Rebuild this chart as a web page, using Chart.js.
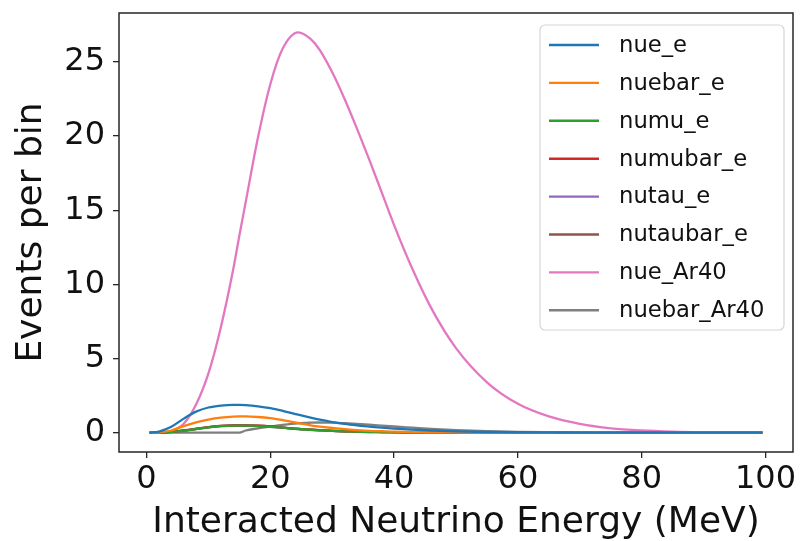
<!DOCTYPE html>
<html>
<head>
<meta charset="utf-8">
<script src="https://cdn.jsdelivr.net/npm/chart.js@4"></script>
<style>
  html, body { margin: 0; padding: 0; background: #fff; }
  #wrap { width: 801px; height: 541px; }
</style>
</head>
<body>
<div id="wrap"><canvas id="myChart" width="801" height="541"></canvas></div>
<script>
// Neutrino energy sample points (MeV)
var energy = [0.5, 2, 4, 6, 8, 10, 12, 14, 15, 16, 18, 20, 22, 24.5, 26.5, 28, 30, 32, 34, 36, 38, 40, 43, 46, 50, 55, 60, 65, 70, 75, 80, 85, 90, 95, 99.5];

// Events per bin for each channel
var nue_e       = [0, 0.08, 0.40, 0.95, 1.42, 1.70, 1.83, 1.88, 1.88, 1.86, 1.78, 1.66, 1.48, 1.22, 1.02, 0.88, 0.72, 0.60, 0.50, 0.41, 0.34, 0.28, 0.21, 0.15, 0.09, 0.05, 0.03, 0.02, 0.01, 0.01, 0, 0, 0, 0, 0];
var nuebar_e    = [0, 0.02, 0.15, 0.45, 0.70, 0.89, 1.02, 1.09, 1.10, 1.10, 1.06, 0.98, 0.85, 0.66, 0.50, 0.41, 0.32, 0.24, 0.18, 0.13, 0.10, 0.07, 0.05, 0.03, 0.02, 0.01, 0, 0, 0, 0, 0, 0, 0, 0, 0];
var numu_e      = [0, 0.01, 0.06, 0.14, 0.25, 0.36, 0.44, 0.48, 0.48, 0.48, 0.45, 0.40, 0.34, 0.25, 0.20, 0.16, 0.12, 0.09, 0.07, 0.05, 0.04, 0.03, 0.02, 0.02, 0.01, 0, 0, 0, 0, 0, 0, 0, 0, 0, 0];
var numubar_e   = [0, 0.01, 0.06, 0.15, 0.26, 0.38, 0.46, 0.50, 0.50, 0.50, 0.47, 0.42, 0.35, 0.26, 0.21, 0.17, 0.13, 0.10, 0.08, 0.06, 0.05, 0.04, 0.03, 0.02, 0.01, 0, 0, 0, 0, 0, 0, 0, 0, 0, 0];
var nutau_e     = [0, 0.01, 0.06, 0.14, 0.25, 0.36, 0.44, 0.48, 0.48, 0.48, 0.45, 0.40, 0.34, 0.25, 0.20, 0.16, 0.12, 0.09, 0.07, 0.05, 0.04, 0.03, 0.02, 0.02, 0.01, 0, 0, 0, 0, 0, 0, 0, 0, 0, 0];
var nutaubar_e  = [0, 0.01, 0.06, 0.15, 0.26, 0.38, 0.46, 0.50, 0.50, 0.50, 0.47, 0.42, 0.35, 0.26, 0.21, 0.17, 0.13, 0.10, 0.08, 0.06, 0.05, 0.04, 0.03, 0.02, 0.01, 0, 0, 0, 0, 0, 0, 0, 0, 0, 0];
var nue_Ar40    = [0, 0, 0.10, 0.60, 1.90, 4.00, 7.10, 11.0, 13.3, 15.5, 19.9, 23.5, 25.9, 27.0, 26.55, 25.8, 24.3, 22.5, 20.5, 18.4, 16.2, 14.0, 11.0, 8.4, 5.7, 3.4, 1.95, 1.1, 0.6, 0.3, 0.15, 0.07, 0.03, 0.01, 0];
var nuebar_Ar40 = [0, 0, 0, 0, 0, 0, 0, 0, 0, 0.15, 0.30, 0.42, 0.53, 0.635, 0.675, 0.69, 0.68, 0.64, 0.59, 0.54, 0.48, 0.42, 0.34, 0.26, 0.18, 0.10, 0.05, 0.03, 0.02, 0.01, 0, 0, 0, 0, 0];

var seriesNames = ['nue_e', 'nuebar_e', 'numu_e', 'numubar_e', 'nutau_e', 'nutaubar_e', 'nue_Ar40', 'nuebar_Ar40'];
var seriesData = [nue_e, nuebar_e, numu_e, numubar_e, nutau_e, nutaubar_e, nue_Ar40, nuebar_Ar40];
var colors = ['#1f77b4', '#ff7f0e', '#2ca02c', '#d62728', '#9467bd', '#8c564b', '#e377c2', '#7f7f7f'];

var xTicks = [0, 20, 40, 60, 80, 100];
var yTicks = [0, 5, 10, 15, 20, 25];

var FONT = "'DejaVu Sans', sans-serif";

var datasets = seriesNames.map(function (name, i) {
  return {
    label: name,
    data: energy.map(function (e, j) { return { x: e, y: seriesData[i][j] }; }),
    borderColor: colors[i],
    backgroundColor: colors[i],
    borderWidth: 2.3,
    pointRadius: 0,
    fill: false,
    cubicInterpolationMode: 'monotone'
  };
});

// Box around the plot area plus a boxed legend in the upper right
var framePlugin = {
  id: 'frame',
  afterDraw: function (chart) {
    var ctx = chart.ctx;
    var a = chart.chartArea;
    ctx.save();
    ctx.strokeStyle = '#262626';
    ctx.lineWidth = 1.5;
    ctx.strokeRect(a.left, a.top, a.right - a.left, a.bottom - a.top);

    // legend
    var boxL = a.right - 253, boxT = a.top + 12, boxW = 244, boxH = 305;
    ctx.beginPath();
    ctx.roundRect(boxL, boxT, boxW, boxH, 5);
    ctx.fillStyle = 'rgba(255,255,255,0.8)';
    ctx.fill();
    ctx.strokeStyle = '#d6d6d6';
    ctx.lineWidth = 1.2;
    ctx.stroke();

    ctx.font = '22.7px ' + FONT;
    ctx.textBaseline = 'middle';
    ctx.textAlign = 'left';
    chart.data.datasets.forEach(function (ds, i) {
      var y = boxT + 20 + i * 37.9;
      ctx.strokeStyle = ds.borderColor;
      ctx.lineWidth = 2.4;
      ctx.beginPath();
      ctx.moveTo(boxL + 9, y);
      ctx.lineTo(boxL + 59, y);
      ctx.stroke();
      ctx.fillStyle = '#111';
      ctx.fillText(ds.label, boxL + 79, y + 1);
    });
    ctx.restore();
  }
};

function noPadding(scale) {
  scale.paddingTop = 0;
  scale.paddingBottom = 0;
  scale.paddingLeft = 0;
  scale.paddingRight = 0;
}

var ctx = document.getElementById('myChart').getContext('2d');

var myChart = new Chart(ctx, {
  type: 'line',
  data: { datasets: datasets },
  options: {
    responsive: false,
    animation: false,
    layout: { padding: { left: 0, right: 8, top: 13, bottom: 0 } },
    plugins: {
      legend: { display: false },
      tooltip: { enabled: false }
    },
    scales: {
      x: {
        type: 'linear',
        min: -4.45,
        max: 104.45,
        afterBuildTicks: function (scale) {
          scale.ticks = xTicks.map(function (v) { return { value: v }; });
        },
        afterFit: function (scale) { scale.height = 89; noPadding(scale); },
        grid: { drawOnChartArea: false, drawTicks: true, tickLength: 6, color: '#262626', lineWidth: 1.3 },
        border: { display: false },
        ticks: { font: { family: FONT, size: 32, lineHeight: 1.0 }, color: '#111', padding: 6, maxRotation: 0 },
        title: { display: true, text: 'Interacted Neutrino Energy (MeV)', font: { family: FONT, size: 36, lineHeight: 1.0 }, color: '#111', padding: { top: 0, bottom: 0 } }
      },
      y: {
        min: -1.3,
        max: 28.3,
        afterBuildTicks: function (scale) {
          scale.ticks = yTicks.map(function (v) { return { value: v }; });
        },
        afterFit: function (scale) { scale.width = 119; noPadding(scale); },
        grid: { drawOnChartArea: false, drawTicks: true, tickLength: 6, color: '#262626', lineWidth: 1.3 },
        border: { display: false },
        ticks: { font: { family: FONT, size: 32 }, color: '#111', padding: 8 },
        title: { display: true, text: 'Events per bin', font: { family: FONT, size: 36 }, color: '#111', padding: { top: 10, bottom: 0 } }
      }
    }
  },
  plugins: [framePlugin]
});
</script>
</body>
</html>
